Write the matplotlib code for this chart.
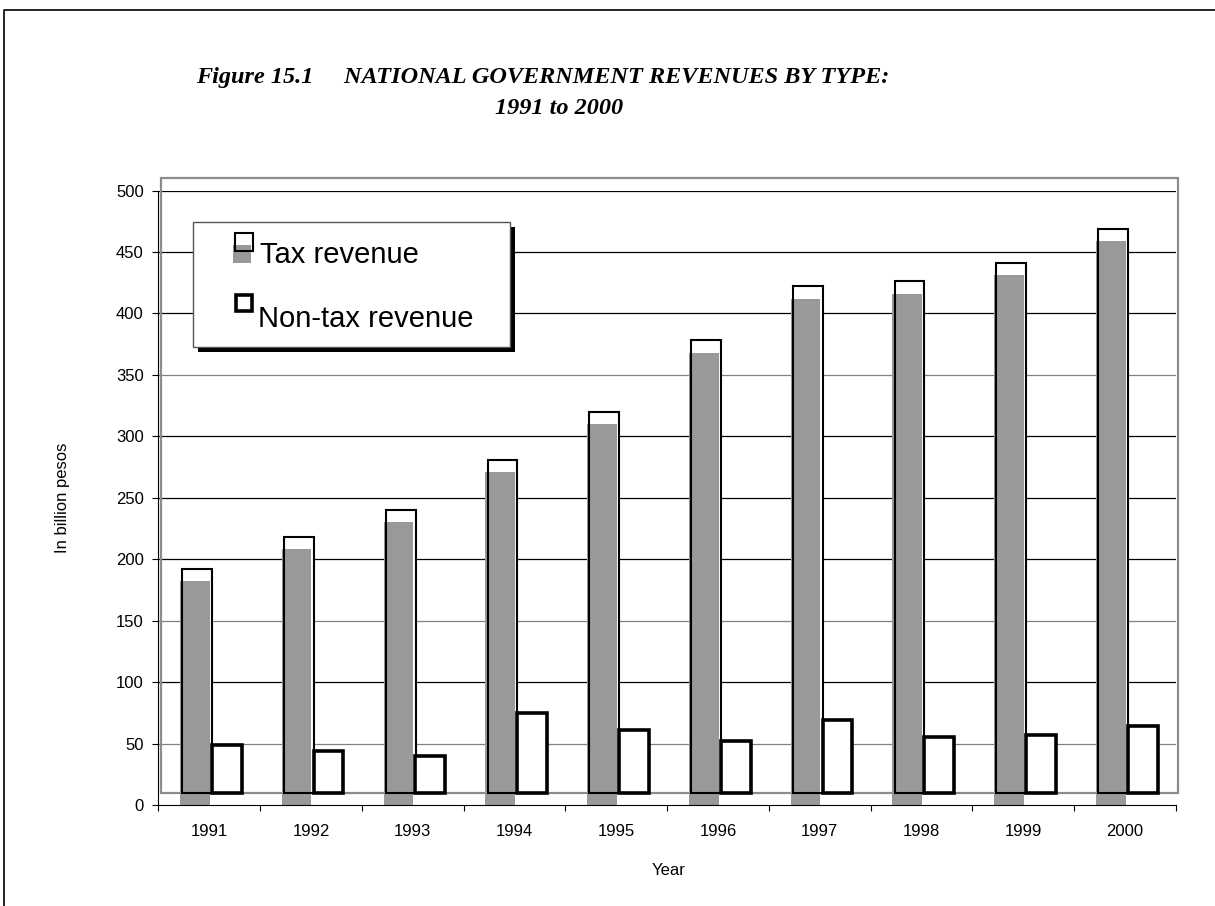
import numpy as np
import matplotlib.pyplot as plt
from matplotlib.patches import Rectangle

years = ['1991', '1992', '1993', '1994', '1995', '1996', '1997', '1998', '1999', '2000']
tax = [182, 208, 230, 271, 310, 368, 412, 416, 431, 459]
nontax = [39, 34, 30, 64.5, 51, 42, 59, 45.5, 47, 54.5]
yticks = [0, 50, 100, 150, 200, 250, 300, 350, 400, 450, 500]

plt.rcParams['font.family'] = ['Liberation Sans', 'DejaVu Sans']

fig = plt.figure(figsize=(12.15, 9.06), dpi=100)
ax = fig.add_axes([0.1303, 0.1115, 0.8376, 0.6782])

x = np.arange(len(years))
depth = 10      # front face lifted by this much (fake 3D)
dx = 0.023      # and shifted right a little
w = 0.292

# gridlines
for t in yticks[1:]:
    c = '#808080' if t in (50, 150, 350) else 'black'
    ax.axhline(t, color=c, lw=0.9, zorder=1)

# shifted plot-area frame
ax.add_patch(Rectangle((-0.5 + dx, depth), 10, 500, fill=False, ec='#8c8c8c',
                       lw=1.6, clip_on=False, zorder=2))

# tax revenue
ax.bar(x - 0.264, tax, w, bottom=depth, align='edge', color='white', lw=0, zorder=3)
ax.bar(x - 0.287, tax, w, align='edge', color='#999999', lw=0, zorder=4, clip_on=False)
ax.bar(x - 0.264, tax, w, bottom=depth, align='edge', fill=False, ec='black',
       lw=1.5, zorder=5, clip_on=False)
# non-tax revenue
ax.bar(x + 0.027, nontax, w, bottom=depth, align='edge', color='white', ec='black',
       lw=2.6, zorder=5)

ax.set_xlim(-0.5, 9.5)
ax.set_ylim(0, 500)
ax.set_yticks(yticks)
ax.set_xticks(np.arange(-0.5, 10, 1))
ax.set_xticklabels([])
ax.set_xticks(x, minor=True)
ax.set_xticklabels(years, minor=True)
ax.tick_params(axis='both', which='major', direction='out', length=4.5, width=0.8,
               labelsize=12, pad=6)
ax.tick_params(axis='x', which='minor', length=0, labelsize=12, pad=14)
for s in ['top', 'right']:
    ax.spines[s].set_visible(False)
for s in ['left', 'bottom']:
    ax.spines[s].set_linewidth(0.8)
    ax.spines[s].set_zorder(6)

ax.set_ylabel('In billion pesos', fontsize=12, va='center')
ax.yaxis.set_label_coords(-0.094, 0.5)
ax.set_xlabel('Year', fontsize=12, va='center')
ax.xaxis.set_label_coords(0.501, -0.106)

# overlay in pixel coords for legend, title and page border
ov = fig.add_axes([0, 0, 1, 1])
ov.set_xlim(0, 1215)
ov.set_ylim(906, 0)
ov.axis('off')

ov.plot([4, 4, 1215], [906, 10, 10], color='black', lw=1.2)

ov.text(196, 78, 'Figure 15.1     NATIONAL GOVERNMENT REVENUES BY TYPE:',
        family='Liberation Serif', weight='bold', style='italic', fontsize=17.5,
        ha='left', va='center')
ov.text(559, 108, '1991 to 2000', family='Liberation Serif', weight='bold',
        style='italic', fontsize=17.5, ha='center', va='center')

ov.add_patch(Rectangle((198, 227), 317, 125, color='black', lw=0))
ov.add_patch(Rectangle((193, 222), 317, 125, fc='white', ec='#555555', lw=1))
ov.add_patch(Rectangle((235, 233), 18, 18, fc='white', lw=0))
ov.add_patch(Rectangle((233, 245), 18, 18, fc='#999999', lw=0))
ov.add_patch(Rectangle((235, 233), 18, 18, fill=False, ec='black', lw=1.5))
ov.add_patch(Rectangle((236, 295), 16, 16, fc='white', ec='black', lw=2.6))
ov.text(260, 263, 'Tax revenue', fontsize=21, va='baseline')
ov.text(258, 327, 'Non-tax revenue', fontsize=21, va='baseline')

plt.savefig('out.png')
